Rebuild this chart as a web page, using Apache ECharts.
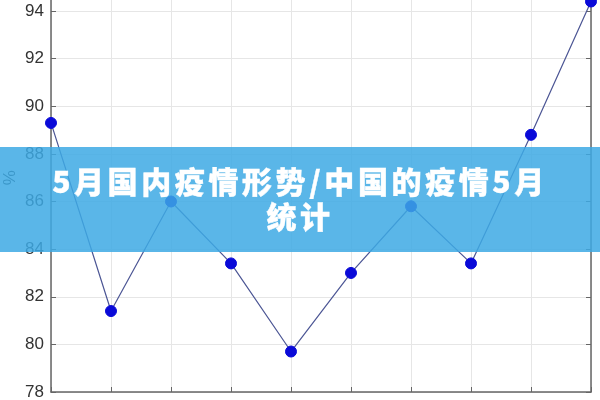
<!DOCTYPE html>
<html>
<head>
<meta charset="utf-8">
<script src="https://cdn.jsdelivr.net/npm/echarts@6/dist/echarts.min.js"></script>
<style>
  html, body { margin: 0; padding: 0; background: #fff; }
  #wrap { position: relative; width: 600px; height: 400px; overflow: hidden; }
  #chart { width: 600px; height: 400px; }
  #banner {
    position: absolute; left: 0; top: 147px; width: 600px; height: 105px;
    background: rgba(61, 169, 228, 0.85);
    color: #fff; text-align: center;
    font-family: "Noto Sans CJK SC", sans-serif; font-weight: 900;
    font-size: 30px; line-height: 35px; letter-spacing: 3.6px;
    -webkit-text-stroke: 0.4px #fff;
    padding-top: 16px; box-sizing: border-box;
  }
</style>
</head>
<body>
<div id="wrap">
  <div id="chart"></div>
  <div id="banner">5月国内疫情形势/中国的疫情5月<br>统计</div>
</div>
<script>
// 数据
var days = ['1', '2', '3', '4', '5', '6', '7', '8', '9', '10'];
var rates = [89.3, 81.4, 86.0, 83.4, 79.7, 83.0, 85.8, 83.4, 88.8, 94.4];
var yTicks = [78, 80, 82, 84, 86, 88, 90, 92, 94, 96];

var yMin = yTicks[0], yMax = yTicks[yTicks.length - 1];

var myChart = echarts.init(document.getElementById('chart'));
var option = {
    animation: false,
    grid: {
        left: 51,
        right: 9,
        top: -36.6,
        bottom: 8,
        containLabel: false,
        outerBoundsMode: 'none'
    },
    xAxis: {
        type: 'category',
        boundaryGap: false,
        data: days,
        axisLine: { lineStyle: { color: '#666', width: 1.5 } },
        axisTick: { inside: true, length: 5, alignWithLabel: true, lineStyle: { color: '#666' } },
        axisLabel: { show: false },
        splitLine: { show: true, lineStyle: { color: '#e6e6e6', width: 1 } }
    },
    yAxis: [
        {
            type: 'value',
            min: yMin,
            max: yMax,
            interval: 2,
            name: '%',
            nameLocation: 'middle',
            nameGap: 32,
            nameMoveOverlap: false,
            nameRotate: 90,
            nameTextStyle: { color: '#333', fontSize: 17, fontFamily: 'Liberation Sans' },
            axisLine: { show: true, lineStyle: { color: '#666', width: 1.5 } },
            axisTick: { show: true, inside: true, length: 5, lineStyle: { color: '#666' } },
            axisLabel: { color: '#333', fontSize: 17, margin: 7, fontFamily: 'Liberation Sans' },
            splitLine: { show: true, lineStyle: { color: '#e6e6e6', width: 1 } }
        },
        {
            type: 'value',
            position: 'right',
            min: yMin,
            max: yMax,
            interval: 2,
            axisLine: { show: true, lineStyle: { color: '#666', width: 1.5 } },
            axisTick: { show: true, inside: true, length: 5, lineStyle: { color: '#666' } },
            axisLabel: { show: false },
            splitLine: { show: false }
        }
    ],
    series: [
        {
            type: 'line',
            data: rates,
            symbol: 'circle',
            symbolSize: 11,
            clip: false,
            lineStyle: { color: '#4b5594', width: 1.2 },
            itemStyle: { color: '#0a0ad8', borderColor: '#0a0ad8' }
        }
    ]
};
myChart.setOption(option);
</script>
</body>
</html>
